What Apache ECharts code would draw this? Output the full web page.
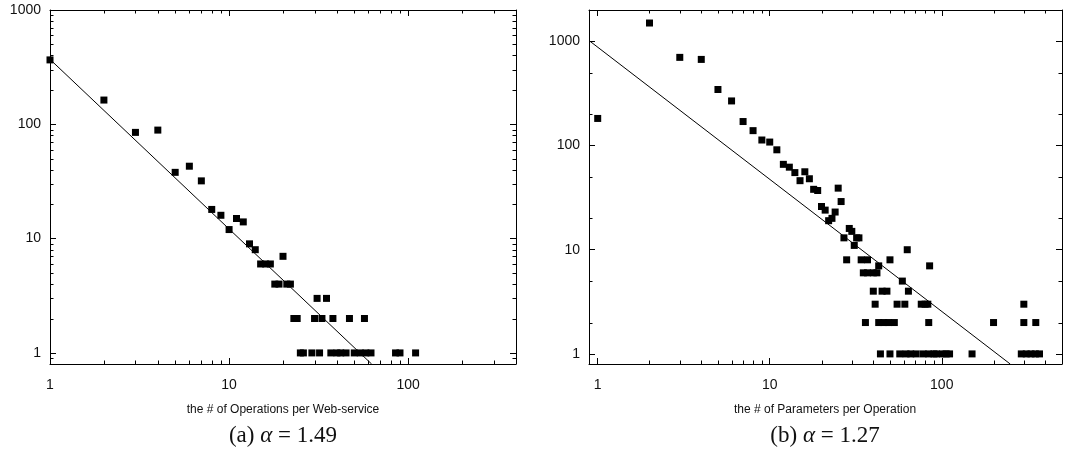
<!DOCTYPE html>
<html><head><meta charset="utf-8">
<script src="https://cdn.jsdelivr.net/npm/echarts@6/dist/echarts.min.js"></script>
<style>html,body{margin:0;padding:0;background:#fff}#c{width:1074px;height:458px}</style>
</head><body><div id="c"></div><script>
// ---- Panel (a): operations per web-service ----
const opsX = [1,2,3,4,5,6,7,8,9,10,11,12,13,14,15,16,17,18,19,20,21,22,23,24,25,26,29,30,31,32,33,35,37,38,40,42,45,47,50,54,57,58,62,85,90,110];
const opsY = [366,163,85,89,38,43,32,18,16,12,15,14,9,8,6,6,6,4,4,7,4,4,2,2,1,1,1,2,3,1,2,3,1,2,1,1,1,2,1,1,2,1,1,1,1,1];
const opsFitX = [1, 62.5];
const opsFitY = [370, 0.8];
const opsXRange = [1, 400];
const opsYRange = [0.8, 1000];
const opsXMinor = [2,3,4,5,6,7,8,9,20,30,40,50,60,70,80,90,200,300];
const opsYMinor = [0.9,2,3,4,5,6,7,8,9,20,30,40,50,60,70,80,90,200,300,400,500,600,700,800,900];

// ---- Panel (b): parameters per operation ----
const parX = [
1,2,3,4,5,6,7,8,9,10,
11,12,13,14,15,16,17,18,19,20,
21,22,23,24,25,26,27,28,29,30,
31,32,33,34,37,50,35,37,40,42,
43,40,45,48,64,41,55,61,76,80,
83,300,36,43,46,49,53,84,200,300,
352,59,63,85,44,50,57,62,66,71,
78,84,90,93,101,106,111,150,290,310,
330,350,370];
const parY = [
182,1500,702,671,345,268,170,139,113,108,
91,66,62,55,46,56,48,38,37,26,
24,19,20,23,39,29,13,8,16,15,
11,13,13,8,8,8,6,6,6,6,
7,4,4,4,4,3,3,3,3,3,
3,3,2,2,2,2,2,2,2,2,
2,5,10,7,1,1,1,1,1,1,
1,1,1,1,1,1,1,1,1,1,
1,1,1];
const parFitX = [0.89, 250];
const parFitY = [1019, 0.8];
const parXRange = [0.89, 500];
const parYRange = [0.8, 2000];
const parXMinor = [2,3,4,5,6,7,8,9,20,30,40,50,60,70,80,90,200,300,400];
const parYMinor = [2,5,20,50,200,500];

const xNames = ['the # of Operations per Web-service', 'the # of Parameters per Operation'];
const captions = [['(a) ', '1.49'], ['(b) ', '1.27']];

const INK = '#000';
const TXT = '#111';
const grids = [
  {left: 50, top: 10, width: 466, height: 354},
  {left: 589, top: 10, width: 473, height: 354}
];

function zip(xs, ys) { return xs.map((x, i) => [x, ys[i]]); }
function fmt(v) { return String(Math.round(v)); }

function mkX(gi, range, pos, withLabels) {
  return {
    type: 'log', logBase: 10, gridIndex: gi, position: pos,
    min: range[0], max: range[1],
    axisLine: {show: true, onZero: false, lineStyle: {color: INK, width: 1}},
    axisTick: {show: true, inside: true, length: 6, lineStyle: {color: INK, width: 1}},
    minorTick: {show: false},
    splitLine: {show: false},
    axisLabel: {show: withLabels, showMinLabel: range[0] === 1, showMaxLabel: false, margin: 14,
      formatter: fmt, fontFamily: 'Liberation Sans, Arial, sans-serif', fontSize: 14, color: TXT}
  };
}
function mkY(gi, range, pos, withLabels) {
  return {
    type: 'log', logBase: 10, gridIndex: gi, position: pos,
    min: range[0], max: range[1],
    axisLine: {show: true, onZero: false, lineStyle: {color: INK, width: 1}},
    axisTick: {show: true, inside: true, length: 6, lineStyle: {color: INK, width: 1}},
    minorTick: {show: false},
    splitLine: {show: false},
    axisLabel: {show: withLabels, showMinLabel: false, showMaxLabel: range[1] === 1000, margin: 9,
      formatter: fmt, fontFamily: 'Liberation Sans, Arial, sans-serif', fontSize: 14, color: TXT}
  };
}

function seg(x1, y1, x2, y2) {
  return {type: 'line', shape: {x1, y1, x2, y2}, style: {stroke: INK, lineWidth: 1}};
}
function xMinorSeries(axisIdx, vals, yr) {
  return {
    type: 'custom', xAxisIndex: axisIdx, yAxisIndex: axisIdx, silent: true, z: 5,
    data: vals.map(v => [v, 1]),
    renderItem: function (params, api) {
      const v = api.value(0);
      const a = api.coord([v, yr[0]]);
      const b = api.coord([v, yr[1]]);
      const x = Math.round(a[0]) + 0.5;
      return {type: 'group', children: [seg(x, a[1], x, a[1] - 3.5), seg(x, b[1], x, b[1] + 3.5)]};
    }
  };
}
function yMinorSeries(axisIdx, vals, xr) {
  return {
    type: 'custom', xAxisIndex: axisIdx, yAxisIndex: axisIdx, silent: true, z: 5,
    data: vals.map(v => [1, v]),
    renderItem: function (params, api) {
      const v = api.value(1);
      const a = api.coord([xr[0], v]);
      const b = api.coord([xr[1], v]);
      const y = Math.round(a[1]) + 0.5;
      return {type: 'group', children: [seg(a[0], y, a[0] + 3.5, y), seg(b[0], y, b[0] - 3.5, y)]};
    }
  };
}

function scatter(axisIdx, xs, ys) {
  return {type: 'scatter', xAxisIndex: axisIdx, yAxisIndex: axisIdx, symbol: 'rect', symbolSize: 7,
    itemStyle: {color: '#000', opacity: 1}, data: zip(xs, ys), z: 3, silent: true};
}
function fitLine(axisIdx, xs, ys) {
  return {type: 'line', xAxisIndex: axisIdx, yAxisIndex: axisIdx, showSymbol: false, symbol: 'none',
    lineStyle: {color: '#000', width: 1}, data: zip(xs, ys), clip: true, z: 2, silent: true};
}

function axisName(cx, text) {
  return {
    type: 'text', x: cx, y: 410,
    style: {text: text, align: 'center', verticalAlign: 'middle',
      font: '12px "Liberation Sans", Arial, sans-serif', fill: TXT}
  };
}
function caption(cx, parts) {
  return {
    type: 'text', x: cx, y: 436,
    style: {
      text: '{r|' + parts[0] + '}{i|α}{r| = ' + parts[1] + '}',
      align: 'center', verticalAlign: 'middle',
      rich: {
        r: {fontFamily: 'Liberation Serif, DejaVu Serif, serif', fontSize: 23, fill: TXT},
        i: {fontFamily: 'Liberation Serif, DejaVu Serif, serif', fontStyle: 'italic', fontSize: 23, fill: TXT}
      }
    }
  };
}

const option = {
  backgroundColor: '#fff',
  animation: false,
  grid: grids.map(g => Object.assign({containLabel: false, outerBoundsMode: 'none'}, g)),
  xAxis: [
    mkX(0, opsXRange, 'bottom', true),
    mkX(1, parXRange, 'bottom', true),
    mkX(0, opsXRange, 'top', false),
    mkX(1, parXRange, 'top', false)
  ],
  yAxis: [
    mkY(0, opsYRange, 'left', true),
    mkY(1, parYRange, 'left', true),
    mkY(0, opsYRange, 'right', false),
    mkY(1, parYRange, 'right', false)
  ],
  series: [
    xMinorSeries(0, opsXMinor, opsYRange),
    yMinorSeries(0, opsYMinor, opsXRange),
    xMinorSeries(1, parXMinor, parYRange),
    yMinorSeries(1, parYMinor, parXRange),
    fitLine(0, opsFitX, opsFitY),
    fitLine(1, parFitX, parFitY),
    scatter(0, opsX, opsY),
    scatter(1, parX, parY)
  ],
  graphic: [
    axisName(283, xNames[0]),
    axisName(825, xNames[1]),
    caption(283, captions[0]),
    caption(825, captions[1])
  ]
};

const chart = echarts.init(document.getElementById('c'), null, {renderer: 'canvas'});
chart.setOption(option);
</script></body></html>
